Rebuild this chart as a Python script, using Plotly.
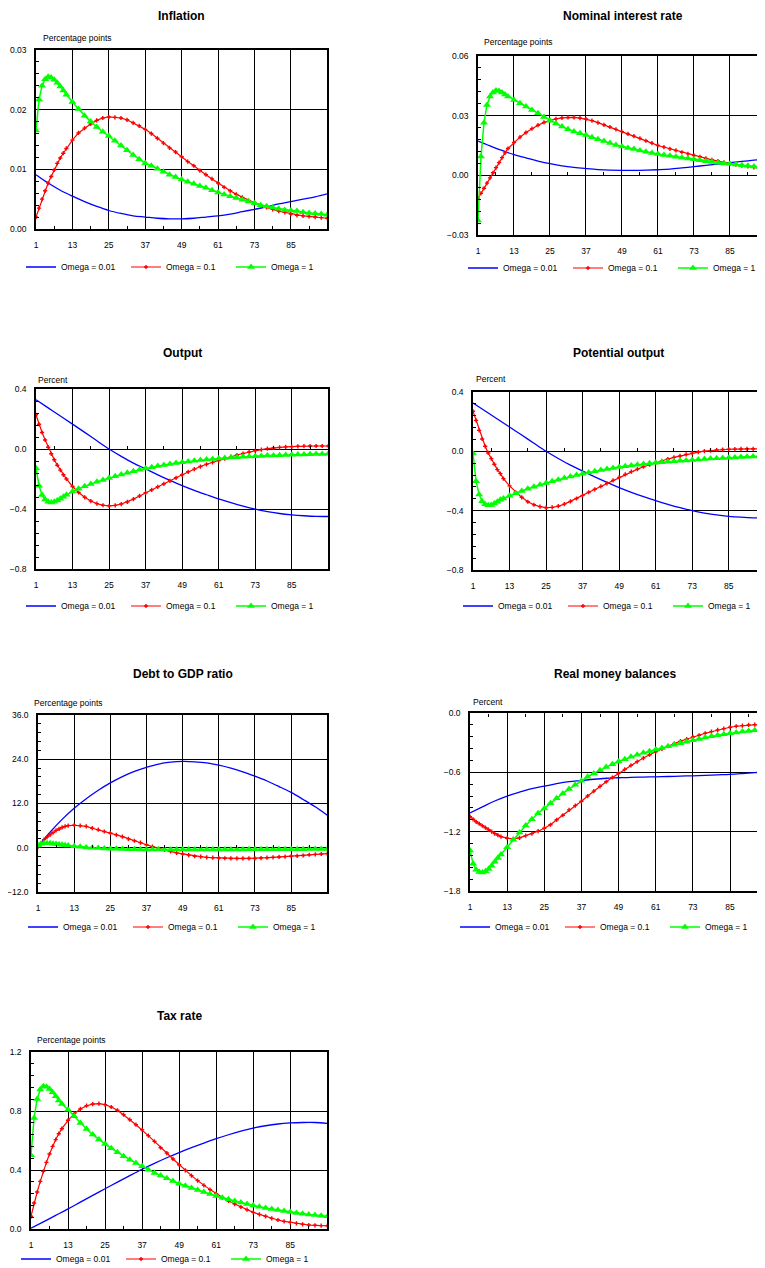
import plotly.graph_objects as go

# page is 765x1268; the page body adds an 8px margin, so the figure is 757x1260
PAGE_OFF = 8
W, H = 765 - PAGE_OFF, 1268 - PAGE_OFF
FONT = "Liberation Sans, Arial, Helvetica, sans-serif"

# ---------------- data ----------------
PERIODS_FAST = list(range(1, 11)) + list(range(11, 98, 2))   # marker series
PERIODS_SLOW = list(range(1, 98, 4))                          # line-only series
X_TICKS = [1, 13, 25, 37, 49, 61, 73, 85]
X_MINOR_TICKS = [7, 19, 31, 43, 55, 67, 79, 91]
SERIES_NAMES = ["Omega = 0.01", "Omega = 0.1", "Omega = 1"]

# Inflation
INFL_001 = [.0091, .0077, .0065, .0055, .0046, .0038, .0031, .0026, .0022, .0020,
            .0018, .0017, .0017, .0018, .0020, .0022, .0025, .0029, .0033, .0037,
            .0042, .0046, .0050, .0054, .0059]
INFL_01 = [.0020, .0035, .0050, .0064, .0077, .0088, .0099, .0110, .0119, .0127,
           .0135, .0149, .0161, .0169, .0176, .0182, .0186, .0188, .0187, .0186,
           .0183, .0178, .0173, .0167, .0160, .0152, .0144, .0136, .0129, .0121,
           .0113, .0106, .0098, .0091, .0084, .0077, .0070, .0064, .0058, .0053,
           .0048, .0044, .0040, .0036, .0033, .0030, .0028, .0025, .0023, .0022,
           .0021, .0020, .0019, .0018]
INFL_1 = [.0165, .0217, .0240, .0251, .0255, .0254, .0250, .0245, .0239, .0232,
          .0225, .0213, .0201, .0190, .0180, .0171, .0163, .0156, .0148, .0140,
          .0132, .0124, .0117, .0110, .0106, .0101, .0096, .0091, .0087, .0083,
          .0079, .0076, .0072, .0069, .0065, .0061, .0058, .0055, .0052, .0049,
          .0046, .0043, .0040, .0038, .0036, .0034, .0032, .0031, .0030, .0028,
          .0027, .0026, .0025, .0024]

# Nominal interest rate
NOM_001 = [.0172, .0148, .0125, .0104, .0088, .0072, .0059, .0048, .0040, .0034,
           .0029, .0026, .0025, .0025, .0026, .0028, .0031, .0037, .0044, .0050,
           .0057, .0064, .0070, .0076, .0082]
NOM_01 = [-.0116, -.0090, -.0065, -.0039, -.0013, .0013, .0039, .0064, .0089, .0113,
          .0135, .0165, .0192, .0215, .0235, .0252, .0266, .0276, .0284, .0289,
          .0291, .0291, .0288, .0283, .0275, .0265, .0254, .0243, .0231, .0220,
          .0208, .0197, .0186, .0174, .0162, .0150, .0142, .0133, .0125, .0116,
          .0108, .0100, .0093, .0085, .0078, .0072, .0065, .0058, .0054, .0049,
          .0045, .0040, .0035, .0031]
NOM_1 = [-.0227, .0095, .0265, .0354, .0396, .0417, .0426, .0424, .0416, .0407,
         .0396, .0379, .0362, .0346, .0329, .0312, .0293, .0275, .0260, .0245,
         .0232, .0220, .0211, .0203, .0192, .0182, .0172, .0162, .0153, .0145,
         .0138, .0132, .0125, .0118, .0112, .0107, .0102, .0098, .0093, .0088,
         .0085, .0081, .0076, .0071, .0067, .0063, .0060, .0058, .0054, .0051,
         .0048, .0045, .0042, .0040]

# Output
OUT_001 = [.328, .274, .220, .166, .111, .055, .000, -.049, -.094, -.133,
           -.172, -.209, -.244, -.276, -.305, -.333, -.358, -.381, -.401, -.417,
           -.430, -.439, -.445, -.449, -.450]
OUT_01 = [.228, .165, .110, .060, .012, -.032, -.072, -.108, -.141, -.172,
          -.200, -.250, -.290, -.322, -.347, -.364, -.375, -.379, -.376, -.367,
          -.353, -.334, -.313, -.292, -.272, -.252, -.232, -.212, -.192, -.172,
          -.152, -.134, -.117, -.102, -.089, -.077, -.064, -.051, -.040, -.030,
          -.020, -.011, -.004, .002, .007, .011, .014, .016, .018, .019,
          .020, .020, .020, .020]
OUT_1 = [-.129, -.245, -.307, -.336, -.352, -.356, -.352, -.343, -.332, -.318,
         -.305, -.284, -.265, -.248, -.233, -.219, -.206, -.194, -.182, -.170,
         -.159, -.149, -.139, -.130, -.122, -.114, -.107, -.100, -.094, -.088,
         -.083, -.078, -.074, -.070, -.066, -.063, -.060, -.057, -.055, -.052,
         -.050, -.048, -.046, -.044, -.043, -.041, -.040, -.038, -.037, -.036,
         -.035, -.034, -.033, -.032]

# Potential output
POT_001 = [.326, .272, .218, .164, .110, .055, .001, -.048, -.093, -.133,
           -.172, -.209, -.244, -.276, -.305, -.332, -.357, -.380, -.400, -.416,
           -.429, -.438, -.444, -.448, -.449]
POT_01 = [.270, .209, .141, .083, .034, -.011, -.049, -.087, -.123, -.150,
          -.184, -.233, -.275, -.310, -.340, -.360, -.373, -.380, -.378, -.370,
          -.356, -.338, -.318, -.297, -.276, -.256, -.236, -.216, -.196, -.176,
          -.156, -.137, -.120, -.104, -.090, -.078, -.065, -.052, -.041, -.031,
          -.021, -.012, -.005, .001, .005, .009, .012, .014, .015, .016,
          .017, .017, .017, .017]
POT_1 = [-.015, -.201, -.291, -.336, -.356, -.363, -.361, -.352, -.340, -.327,
         -.318, -.300, -.283, -.267, -.252, -.238, -.226, -.214, -.202, -.191,
         -.180, -.170, -.160, -.151, -.142, -.134, -.126, -.119, -.112, -.106,
         -.100, -.095, -.090, -.085, -.081, -.077, -.073, -.070, -.067, -.064,
         -.061, -.058, -.055, -.052, -.049, -.047, -.045, -.043, -.041, -.039,
         -.037, -.035, -.033, -.031]

# Debt to GDP ratio
DEBT_001 = [0.3, 4.2, 7.7, 10.7, 13.3, 15.6, 17.6, 19.3, 20.7, 21.8,
            22.7, 23.2, 23.4, 23.3, 23.0, 22.4, 21.6, 20.6, 19.4, 18.1,
            16.6, 15.0, 13.1, 11.1, 8.8]
DEBT_01 = [0.2, 1.1, 2.2, 2.9, 3.5, 4.1, 4.7, 5.1, 5.5, 5.8,
           6.0, 6.1, 6.0, 5.8, 5.3, 4.9, 4.4, 4.0, 3.5, 3.0,
           2.4, 1.9, 1.4, 0.8, 0.3, -0.2, -0.6, -1.0, -1.4, -1.7,
           -2.0, -2.3, -2.4, -2.6, -2.7, -2.8, -2.85, -2.9, -2.9, -2.9,
           -2.9, -2.9, -2.8, -2.7, -2.6, -2.5, -2.4, -2.3, -2.2, -2.1,
           -1.9, -1.8, -1.7, -1.6]
DEBT_1 = [0.7, 1.1, 1.2, 1.2, 1.2, 1.1, 1.0, 0.9, 0.8, 0.7,
          0.6, 0.4, 0.3, 0.1, 0.0, -0.1, -0.2, -0.25, -0.3, -0.35,
          -0.4, -0.4, -0.45, -0.45, -0.45, -0.45, -0.45, -0.45, -0.45, -0.45,
          -0.45, -0.45, -0.45, -0.45, -0.45, -0.45, -0.45, -0.45, -0.45, -0.45,
          -0.4, -0.4, -0.4, -0.4, -0.4, -0.4, -0.4, -0.4, -0.4, -0.4,
          -0.35, -0.35, -0.35, -0.35]

# Real money balances
RMB_001 = [-1.01, -.95, -.89, -.84, -.80, -.765, -.74, -.715, -.695, -.683,
           -.670, -.660, -.655, -.650, -.648, -.645, -.642, -.638, -.635, -.630,
           -.625, -.620, -.612, -.603, -.595]
RMB_01 = [-1.048, -1.075, -1.100, -1.120, -1.140, -1.160, -1.180, -1.200, -1.220, -1.235,
          -1.250, -1.266, -1.273, -1.263, -1.240, -1.220, -1.195, -1.165, -1.130, -1.080,
          -1.034, -.980, -.937, -.893, -.840, -.790, -.742, -.695, -.652, -.610,
          -.570, -.530, -.492, -.456, -.422, -.392, -.363, -.336, -.309, -.285,
          -.265, -.242, -.225, -.205, -.188, -.171, -.158, -.144, -.134, -.128,
          -.121, -.118, -.114, -.110]
RMB_1 = [-1.390, -1.525, -1.585, -1.608, -1.612, -1.600, -1.578, -1.545, -1.504, -1.467,
         -1.430, -1.357, -1.283, -1.209, -1.138, -1.075, -1.014, -.965, -.913, -.863,
         -.813, -.769, -.725, -.685, -.645, -.611, -.578, -.547, -.517, -.490,
         -.467, -.443, -.423, -.403, -.386, -.369, -.353, -.336, -.320, -.306,
         -.290, -.276, -.262, -.249, -.236, -.225, -.215, -.205, -.196, -.188,
         -.181, -.175, -.171, -.167]

# Tax rate
TAX_001 = [.005, .048, .092, .136, .182, .228, .273, .318, .362, .405,
           .445, .483, .518, .551, .582, .612, .639, .663, .684, .700,
           .712, .719, .722, .722, .716]
TAX_01 = [.086, .176, .251, .323, .391, .452, .508, .560, .606, .646,
          .680, .737, .782, .814, .836, .847, .850, .843, .827, .805,
          .775, .741, .707, .673, .633, .594, .551, .515, .475, .436,
          .398, .362, .328, .296, .267, .240, .212, .190, .169, .149,
          .131, .113, .099, .086, .072, .061, .052, .045, .038, .032,
          .027, .025, .023, .022]
TAX_1 = [.500, .753, .881, .945, .967, .965, .949, .927, .900, .872,
         .847, .809, .764, .719, .678, .640, .606, .576, .547, .520,
         .493, .470, .447, .425, .402, .380, .362, .344, .325, .307,
         .294, .278, .264, .251, .237, .224, .212, .201, .190, .179,
         .169, .160, .151, .142, .136, .129, .122, .115, .108, .104,
         .099, .095, .090, .086]

# ---------------- panel layout (page-pixel boxes) ----------------
PANELS = [
    dict(title="Inflation", unit="Percentage points", data=(INFL_001, INFL_01, INFL_1),
         yr=[0, 0.03], dt=0.01, fmt=".2f", box=(36, 327, 50, 229), xmax=96.9,
         unit_xy=(41, 38), title_y=16, leg_y=267, right=False),
    dict(title="Nominal interest rate", unit="Percentage points", data=(NOM_001, NOM_01, NOM_1),
         yr=[-0.03, 0.06], dt=0.03, fmt=".2f", box=(478, 765, 56, 235), xmax=96.7,
         unit_xy=(482, 42), title_y=16, leg_y=268, right=True),
    dict(title="Output", unit="Percent", data=(OUT_001, OUT_01, OUT_1),
         yr=[-0.8, 0.4], dt=0.4, fmt=".1f", box=(36, 328, 389, 569), xmax=96.9,
         unit_xy=(36, 380), title_y=353, leg_y=606, right=False),
    dict(title="Potential output", unit="Percent", data=(POT_001, POT_01, POT_1),
         yr=[-0.8, 0.4], dt=0.4, fmt=".1f", box=(473, 765, 392, 570), xmax=96.9,
         unit_xy=(474, 379), title_y=353, leg_y=606, right=True),
    dict(title="Debt to GDP ratio", unit="Percentage points", data=(DEBT_001, DEBT_01, DEBT_1),
         yr=[-12, 36], dt=12, fmt=".1f", box=(38, 327, 715, 892), xmax=96.9,
         unit_xy=(32, 703), title_y=674, leg_y=927, right=False),
    dict(title="Real money balances", unit="Percent", data=(RMB_001, RMB_01, RMB_1),
         yr=[-1.8, 0.0], dt=0.6, fmt=".1f", box=(470, 765, 713, 891), xmax=96.3,
         unit_xy=(471, 702), title_y=674, leg_y=927, right=True),
    dict(title="Tax rate", unit="Percentage points", data=(TAX_001, TAX_01, TAX_1),
         yr=[0, 1.2], dt=0.4, fmt=".1f", box=(31, 327, 1052, 1229), xmax=96.9,
         unit_xy=(35, 1040), title_y=1016, leg_y=1259, right=False),
]

COLORS = ["#0000ff", "#ff0000", "#00ff00"]


def px_x(v):
    return min(max((v - PAGE_OFF) / W, 0.0), 1.0)


def px_y(v):
    return min(max(1 - (v - PAGE_OFF) / H, 0.0), 1.0)


fig = go.Figure()
annotations = []
layout_axes = {}
n_panels = len(PANELS)

for i, p in enumerate(PANELS, start=1):
    L, R, T, B = p["box"]
    xa = "x" if i == 1 else f"x{i}"
    ya = "y" if i == 1 else f"y{i}"
    lg = "legend" if i == 1 else f"legend{i}"
    blue, red, green = p["data"]

    fig.add_trace(go.Scatter(
        x=PERIODS_SLOW, y=blue, name=SERIES_NAMES[0], mode="lines",
        line=dict(color=COLORS[0], width=1.3, shape="spline"),
        xaxis=xa, yaxis=ya, legend=lg))
    fig.add_trace(go.Scatter(
        x=PERIODS_FAST, y=red, name=SERIES_NAMES[1], mode="lines+markers",
        line=dict(color=COLORS[1], width=1.2),
        marker=dict(symbol="cross", size=3.5, color=COLORS[1]),
        xaxis=xa, yaxis=ya, legend=lg))
    fig.add_trace(go.Scatter(
        x=PERIODS_FAST, y=green, name=SERIES_NAMES[2], mode="lines+markers",
        line=dict(color=COLORS[2], width=1.5),
        marker=dict(symbol="triangle-up", size=7, color=COLORS[2]),
        xaxis=xa, yaxis=ya, legend=lg))

    xkey = "xaxis" if i == 1 else f"xaxis{i}"
    ykey = "yaxis" if i == 1 else f"yaxis{i}"
    ydom = [px_y(B), px_y(T)]
    layout_axes[xkey] = dict(
        domain=[px_x(L), px_x(R)], anchor=ya, range=[1, p["xmax"]],
        tickmode="array", tickvals=X_TICKS, ticks="",
        showgrid=True, gridcolor="#000000", gridwidth=1,
        showline=True, linecolor="#000000", linewidth=1.5, mirror=True,
        zeroline=False, tickfont=dict(family=FONT, size=8.5, color="#000"),
        ticklabelstandoff=7, fixedrange=True, automargin=False)
    layout_axes[ykey] = dict(
        domain=ydom, anchor=xa, range=p["yr"],
        tick0=p["yr"][0], dtick=p["dt"], tickformat=p["fmt"], ticks="",
        showgrid=True, gridcolor="#000000", gridwidth=1,
        showline=True, linecolor="#000000", linewidth=1.5,
        mirror=not p["right"],
        zeroline=True, zerolinecolor="#000000", zerolinewidth=1,
        minor=dict(dtick=p["dt"] / 5, ticks="inside", ticklen=3,
                   tickcolor="#000000", showgrid=False),
        tickfont=dict(family=FONT, size=8.5, color="#000"),
        ticklabelstandoff=6, fixedrange=True, automargin=False)

    # small x ticks on the y = 0 line (crossing axis)
    j = n_panels + i
    xo = f"x{j}"
    frac = (0 - p["yr"][0]) / (p["yr"][1] - p["yr"][0])
    pos = ydom[0] + frac * (ydom[1] - ydom[0])
    layout_axes[f"xaxis{j}"] = dict(
        overlaying=xa, anchor="free", position=pos,
        side="top" if frac >= 0.999 else "bottom",
        range=[1, p["xmax"]], tickmode="array", tickvals=X_MINOR_TICKS,
        ticks="inside", ticklen=3, tickwidth=1, tickcolor="#000000",
        showticklabels=False, showgrid=False, showline=False, zeroline=False,
        fixedrange=True, automargin=False)
    fig.add_trace(go.Scatter(x=[None], y=[None], xaxis=xo, yaxis=ya,
                             showlegend=False, hoverinfo="skip", mode="lines"))

    # legend for this panel
    layout_axes[lg] = dict(
        orientation="h", x=px_x(L - 15), xanchor="left",
        y=px_y(p["leg_y"]), yanchor="middle",
        font=dict(family=FONT, size=8.5, color="#000"),
        bgcolor="rgba(0,0,0,0)", itemwidth=30,
        entrywidth=60, entrywidthmode="pixels", tracegroupgap=0)

    cx = (L + (R if not p["right"] else L + 290)) / 2
    annotations.append(dict(
        text=p["title"], xref="paper", yref="paper", x=px_x(cx), y=px_y(p["title_y"]),
        xanchor="center", yanchor="middle", showarrow=False,
        font=dict(family=FONT, size=12, color="#000", weight="bold")))
    ux, uy = p["unit_xy"]
    annotations.append(dict(
        text=p["unit"], xref="paper", yref="paper", x=px_x(ux), y=px_y(uy),
        xanchor="left", yanchor="middle", showarrow=False,
        font=dict(family=FONT, size=8.5, color="#000")))

fig.update_layout(
    width=W, height=H, autosize=False,
    margin=dict(l=0, r=0, t=0, b=0, pad=0, autoexpand=False),
    paper_bgcolor="#ffffff", plot_bgcolor="#ffffff",
    font=dict(family=FONT, size=8.5, color="#000"),
    annotations=annotations,
    **layout_axes,
)

fig.write_html("out.html")
